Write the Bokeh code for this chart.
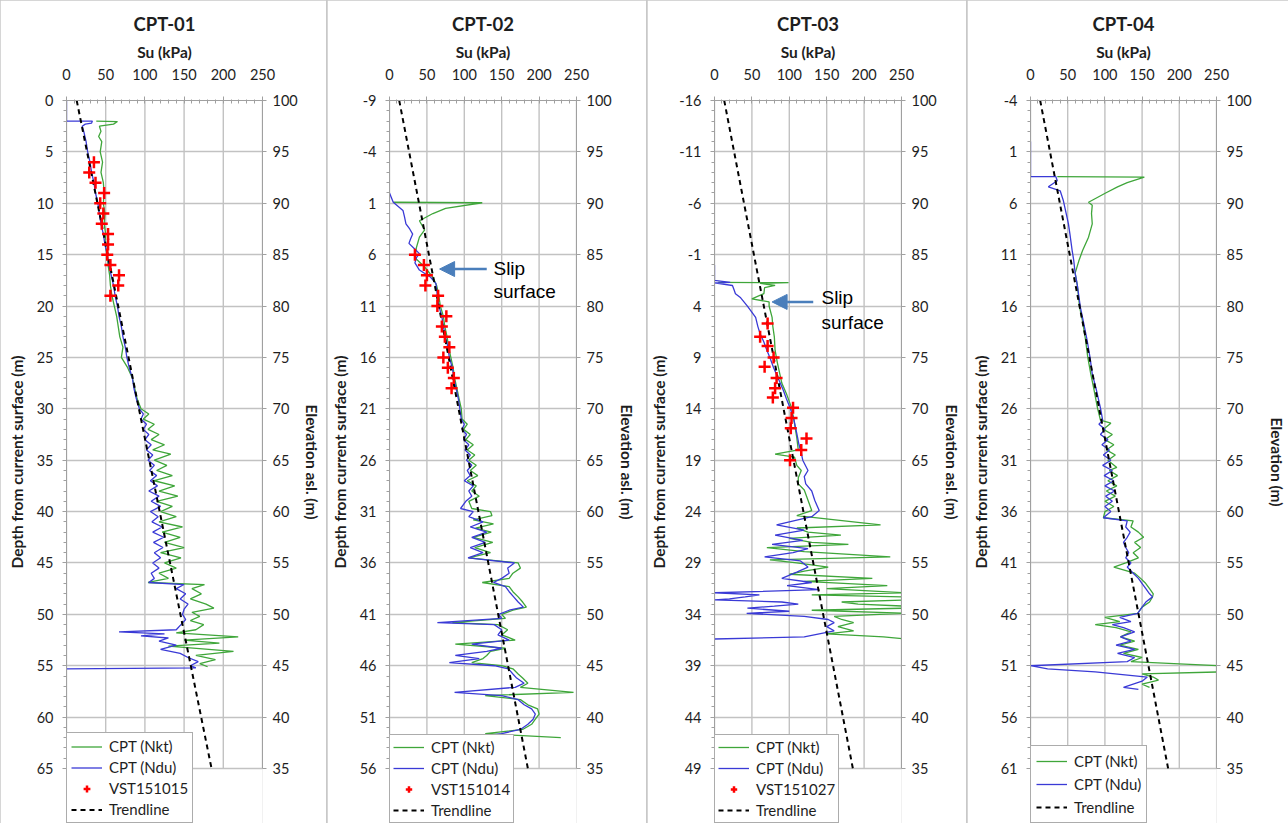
from bokeh.plotting import figure
from bokeh.models import (Range1d, LinearAxis, FixedTicker, Legend, LegendItem,
                          Arrow, NormalHead, Label)
from bokeh.layouts import row
from bokeh.embed import file_html
from bokeh.resources import INLINE

# ---------------- data ----------------
panel_titles = ["CPT-01", "CPT-02", "CPT-03", "CPT-04"]
depth_tops = [0, -9, -16, -4]          # depth value at elevation 100 m
elev_labels = ["Elevation asl. (m)", "Elevation asl. (m)", "Elevation asl. (m)", "Elevation (m)"]
vst_names = ["VST151015", "VST151014", "VST151027", None]
su_ticks = [0, 50, 100, 150, 200, 250]
elev_ticks = list(range(35, 101, 5))
trend_elev = [100, 35]
trend_su = [13, 185]

# (depth m, Su kPa)
cpt01_nkt = [(2.0, 38), (2.05, 65), (2.3, 60), (2.5, 42), (3, 44), (3.5, 41), (4, 45), (5, 43), (6, 46), (7, 44),
             (8, 47), (9, 48), (10, 47), (11, 49), (12, 48), (13, 50), (14, 49), (15, 52), (16, 53), (17, 55),
             (18, 56), (19, 58), (20, 61), (21, 64), (22, 66), (23, 68), (24, 72), (25, 70), (26, 78), (27, 84),
             (28, 87), (29, 90), (30.0, 95), (30.5, 105), (31.0, 98), (31.5, 112), (32.0, 104), (32.5, 118),
             (33.0, 108), (33.5, 125), (34.0, 110), (34.4, 133), (35.0, 112), (35.5, 128), (36.0, 115), (36.5, 135),
             (37.0, 112), (37.5, 138), (38.0, 118), (38.5, 142), (39.0, 115), (39.5, 135), (40.0, 120), (40.5, 140),
             (41.0, 118), (41.5, 148), (42.0, 122), (42.5, 145), (43.0, 125), (43.5, 150), (44.0, 120), (44.5, 146),
             (45.0, 125), (45.5, 140), (46.0, 118), (46.5, 130), (46.9, 104), (47.1, 176), (47.5, 160), (48.0, 172),
             (48.5, 158), (49.0, 178), (49.4, 188), (49.8, 160), (50.2, 170), (50.6, 158), (51.0, 175), (51.5, 165),
             (51.8, 140), (52.2, 219), (52.5, 150), (52.8, 195), (53.1, 130), (53.6, 213), (54.0, 165), (54.4, 190),
             (54.8, 170), (55.1, 180)]
cpt01_ndu = [(0, 0), (2.0, 0), (2.0, 33), (2.2, 32), (2.3, 24), (2.5, 20), (3, 22), (4, 25), (5, 27), (6, 30),
             (7, 32), (8, 35), (9, 37), (10, 40), (11, 42), (12, 44), (13, 47), (14, 49), (15, 52), (16, 54),
             (17, 57), (18, 60), (19, 62), (20, 65), (21, 67), (22, 70), (23, 72), (24, 75), (25, 77), (26, 80),
             (27, 84), (28, 86), (29, 89), (30.0, 93), (30.5, 98), (31.0, 95), (31.5, 102), (32.0, 98), (32.5, 105),
             (33.0, 100), (33.5, 108), (34.0, 102), (34.5, 110), (35.0, 104), (35.5, 112), (36.0, 106), (36.5, 115),
             (37.0, 107), (37.5, 116), (38.0, 105), (38.5, 118), (39.0, 108), (39.5, 120), (40.0, 107), (40.5, 117),
             (41.0, 109), (41.5, 122), (42.0, 110), (42.5, 124), (43.0, 111), (43.5, 123), (44.0, 112), (44.5, 120),
             (45.0, 110), (45.5, 118), (46.0, 108), (46.5, 112), (46.9, 105), (47.1, 150), (47.5, 140), (48.0, 152),
             (48.5, 145), (49.0, 155), (49.5, 150), (50.0, 148), (50.5, 152), (51.0, 146), (51.5, 140), (51.7, 67),
             (51.9, 125), (52.1, 95), (52.3, 130), (52.6, 118), (53.0, 140), (53.4, 120), (53.8, 145), (54.2, 155),
             (54.6, 168), (55.0, 158), (55.2, 165), (55.3, 0)]
cpt01_vst = [(6, 35), (7, 29), (8, 37), (9, 48), (10, 43), (11, 47), (12, 45), (13, 53), (14, 53), (15, 52),
             (16, 56), (17, 67), (18, 66), (19, 56)]

cpt02_nkt = [(0.9, 5), (0.95, 124), (1.5, 75), (2.0, 58), (2.7, 40), (3.6, 47), (4.3, 40), (5.3, 36), (6.3, 34),
             (7.2, 47), (8.2, 58), (9, 63), (10, 66), (11, 68), (12, 72), (13, 74), (14, 77), (15, 79), (16, 82),
             (17, 85), (18, 87), (19, 90), (20, 93), (21, 96), (22.0, 97), (22.5, 104), (23.0, 99), (23.5, 108),
             (24.0, 102), (24.5, 112), (25.0, 104), (25.5, 114), (26.0, 106), (26.5, 116), (27.0, 108), (27.5, 118),
             (28.0, 104), (28.5, 116), (29.0, 110), (29.5, 120), (30.0, 106), (30.7, 110), (31.0, 135), (31.4, 137),
             (31.8, 112), (32.2, 139), (32.6, 115), (33.0, 136), (33.5, 112), (34.0, 138), (34.5, 114), (35.0, 135),
             (35.5, 106), (36.0, 172), (36.5, 175), (37.0, 165), (37.5, 160), (37.9, 124), (38.3, 160), (38.8, 165),
             (39.3, 172), (39.8, 178), (40.3, 183), (40.6, 165), (41.0, 150), (41.4, 155), (41.8, 84), (42.0, 145),
             (42.5, 158), (43.0, 150), (43.5, 168), (43.9, 88), (44.3, 155), (44.6, 135), (45.0, 130), (45.3, 125),
             (45.7, 110), (46.0, 150), (46.3, 165), (46.8, 172), (47.2, 178), (47.7, 185), (48.1, 175), (48.6, 246),
             (48.9, 128), (49.3, 175), (49.8, 185), (50.2, 198), (50.7, 200), (51.2, 195), (51.7, 190), (52.2, 178),
             (52.6, 128), (53.0, 229)]
cpt02_ndu = [(0.0, 0), (0.9, 5), (1.7, 18), (2.3, 20), (3.0, 22), (3.5, 27), (4.0, 31), (4.5, 28), (4.9, 26),
             (5.4, 33), (5.9, 40), (6.3, 36), (6.8, 34), (7.5, 40), (8.2, 55), (8.8, 62), (10, 64), (11, 66),
             (12, 70), (13, 72), (14, 75), (15, 78), (16, 80), (17, 84), (18, 86), (19, 89), (20, 92), (21, 94),
             (22.0, 96), (22.5, 100), (23.0, 97), (23.5, 103), (24.0, 99), (24.5, 106), (25.0, 101), (25.5, 108),
             (26.0, 103), (26.5, 110), (27.0, 104), (27.5, 108), (28.0, 100), (28.5, 112), (29.0, 106), (29.5, 110),
             (30.0, 102), (30.7, 95), (31.0, 112), (31.5, 106), (32.0, 125), (32.5, 108), (33.0, 130), (33.5, 110),
             (34.0, 128), (34.5, 108), (35.0, 125), (35.5, 105), (36.0, 167), (36.5, 158), (37.0, 160), (37.5, 150),
             (37.9, 139), (38.3, 155), (38.8, 160), (39.3, 166), (39.8, 172), (40.3, 179), (40.6, 160), (41.0, 146),
             (41.4, 150), (41.8, 64), (42.0, 140), (42.5, 150), (43.0, 145), (43.5, 160), (43.9, 110), (44.3, 150),
             (44.6, 130), (45.0, 88), (45.3, 120), (45.7, 80), (46.0, 140), (46.3, 159), (46.8, 165), (47.2, 170),
             (47.7, 180), (48.1, 168), (48.6, 87), (48.9, 150), (49.3, 172), (49.8, 180), (50.2, 190), (50.7, 195),
             (51.2, 192), (51.7, 185), (52.2, 175), (52.6, 150), (52.8, 130), (53.0, 0)]
cpt02_vst = [(6, 34), (7, 46), (8, 50), (9, 48), (10, 65), (11, 64), (12, 76), (13, 70), (14, 74), (15, 80),
             (16, 72), (17, 78), (18, 86), (19, 83)]

cpt03_nkt = [(1.7, 5), (1.72, 99), (1.8, 61), (2.0, 81), (2.2, 67), (2.8, 66), (3.3, 50), (3.6, 73), (4, 73),
             (5.1, 77), (6, 78), (7, 80), (8.3, 81), (9.5, 84), (10.5, 87), (11.5, 90), (12.5, 96), (13.9, 103),
             (15, 106), (16.8, 110), (18.0, 112), (18.4, 81), (18.7, 107), (19.5, 110), (20.0, 116), (20.7, 112),
             (21.3, 112), (21.9, 120), (22.9, 125), (23.9, 130), (24.4, 110), (25.3, 222), (25.6, 110), (26.0, 125),
             (26.3, 169), (26.6, 100), (27.0, 130), (27.2, 179), (27.5, 70), (27.9, 120), (28.4, 235), (28.7, 74),
             (29.0, 110), (29.4, 152), (29.8, 120), (30.1, 100), (30.5, 211), (30.8, 120), (31.2, 231), (31.5, 150),
             (31.9, 255), (32.1, 130), (32.3, 255), (32.6, 255), (32.8, 170), (33.0, 192), (33.2, 255), (33.4, 255),
             (33.6, 130), (33.9, 255), (34.2, 160), (34.5, 170), (34.8, 186), (35.2, 165), (35.6, 186), (35.9, 150),
             (36.2, 226), (36.4, 255)]
cpt03_ndu = [(0, 0), (1.5, 0), (1.7, 21), (1.75, 0), (2.0, 24), (2.4, 26), (2.8, 28), (3.2, 35), (4, 44),
             (5.1, 55), (6, 58), (6.7, 61), (7.5, 66), (8.3, 70), (9, 74), (10, 79), (11, 85), (12.2, 92), (13, 96),
             (13.9, 101), (15, 106), (16.4, 110), (17.5, 113), (18.3, 116), (19, 118), (20, 125), (20.6, 120),
             (21.3, 122), (22.0, 130), (22.9, 134), (23.4, 137), (23.9, 140), (24.5, 130), (25.3, 83), (25.8, 120),
             (26.3, 81), (26.8, 118), (27.2, 77), (27.6, 125), (28.0, 105), (28.4, 67), (28.8, 115), (29.4, 125),
             (29.9, 110), (30.5, 90), (30.9, 130), (31.2, 97), (31.6, 140), (31.9, 0), (32.1, 60), (32.3, 41),
             (32.5, 20), (32.6, 0), (32.8, 90), (33.0, 112), (33.2, 80), (33.4, 44), (33.7, 100), (33.9, 43),
             (34.2, 120), (34.5, 152), (34.8, 160), (35.2, 150), (35.6, 160), (35.9, 140), (36.2, 120), (36.4, 0)]
cpt03_vst = [(5.7, 71), (7, 61), (7.9, 71), (9, 79), (9.9, 67), (11, 83), (12, 81), (12.9, 78), (13.9, 105),
             (14.9, 103), (15.9, 102), (16.9, 123), (18, 116), (19, 101)]

cpt04_nkt = [(3.4, 36), (3.45, 153), (4.0, 130), (4.4, 117), (5.0, 101), (5.9, 78), (6.2, 83), (7, 82), (8, 83),
             (9.3, 78), (10.6, 70), (11.6, 65), (12.8, 60), (14, 63), (16.1, 66), (17.5, 70), (19.3, 74), (21, 77),
             (22.6, 81), (24, 85), (25.9, 90), (27.1, 94), (27.4, 108), (28.0, 98), (28.5, 110), (29.0, 100),
             (29.5, 112), (30.0, 102), (30.5, 114), (31.0, 104), (31.7, 116), (32.0, 106), (32.5, 117), (33.0, 104),
             (33.5, 116), (34.0, 102), (34.5, 114), (35.0, 100), (35.5, 112), (36.0, 100), (36.6, 98), (36.9, 138),
             (37.5, 135), (38.0, 145), (38.5, 152), (39.0, 140), (39.5, 148), (40.0, 138), (40.5, 145), (41.0, 128),
             (41.4, 112), (42.0, 140), (42.5, 148), (43.0, 155), (43.5, 160), (44.0, 165), (44.3, 164), (44.8, 160),
             (45.3, 150), (45.9, 144), (46.3, 100), (46.7, 120), (47.0, 87), (47.3, 115), (47.7, 135), (48.2, 121),
             (48.6, 140), (49.0, 120), (49.4, 145), (49.8, 125), (50.2, 150), (50.6, 135), (51.0, 255), (51.3, 255),
             (51.6, 255), (51.8, 150), (52.1, 165), (52.4, 172), (52.8, 150), (53.1, 160)]
cpt04_ndu = [(0, 0), (3.4, 0), (3.4, 34), (3.8, 36), (4.1, 30), (4.4, 24), (4.8, 40), (5.7, 44), (7, 48), (8, 51),
             (9, 53), (10.6, 56), (11.5, 58), (12.8, 60), (14, 63), (16.1, 67), (17.5, 71), (19.3, 76), (21, 80),
             (22.6, 83), (24, 88), (25.9, 94), (27.1, 97), (27.5, 92), (28.0, 100), (28.5, 94), (29.0, 104),
             (29.5, 96), (30.0, 106), (30.5, 98), (31.0, 108), (31.5, 97), (32.0, 110), (32.5, 99), (33.0, 112),
             (33.5, 100), (34.0, 113), (34.5, 101), (35.0, 110), (35.5, 100), (36.0, 108), (36.6, 98), (36.9, 130),
             (37.5, 128), (38.0, 134), (38.5, 130), (39.0, 125), (39.5, 128), (40.0, 132), (40.5, 128), (41.0, 135),
             (41.4, 130), (42.0, 138), (42.5, 145), (43.0, 150), (43.5, 155), (44.0, 160), (44.3, 164), (44.8, 155),
             (45.3, 150), (45.9, 144), (46.3, 120), (46.7, 135), (47.0, 110), (47.3, 125), (47.7, 140), (48.2, 121),
             (48.6, 135), (49.0, 115), (49.4, 140), (49.8, 117), (50.2, 140), (50.6, 130), (51.0, 0), (51.3, 23),
             (51.6, 87), (52.1, 157), (52.5, 150), (53.1, 125), (53.3, 145)]

nkt_data = [cpt01_nkt, cpt02_nkt, cpt03_nkt, cpt04_nkt]
ndu_data = [cpt01_ndu, cpt02_ndu, cpt03_ndu, cpt04_ndu]
vst_data = [cpt01_vst, cpt02_vst, cpt03_vst, None]

# slip surface annotations: (arrow tail Su, arrow head Su, arrow depth, text Su, text depths)
slip_notes = [None, (130, 67, 7.4, 139, 7.3, 9.6), (132, 77, 3.6, 143, 3.2, 5.6), None]

# ---------------- layout / style ----------------
FONT = "Lato"
TXT = "#1e1e1e"
GRID = "#c2c2c2"
GREEN = "#3fa63a"
BLUE = "#3a3ad6"
ARROW = "#4a7ebb"

widths = [326, 319, 319, 321]
lefts = [66, 59, 65, 63]
fws = [196, 190, 189, 186]
elev_standoffs = [2, 3, 3, 13]
legend_geom = [(17, 3, 4), (16, 3, 3), (16, 3, 3), (20, 3, 5)]   # glyph height, spacing, padding
H = 823
TOP = 100            # frame top (px)
AXIS_PX = 668        # pixels used by the 65 m shown on the axes
SPAN = 65
EXT = SPAN * (H - TOP) / AXIS_PX     # range extent so the frame also holds the legend


def split(pairs):
    return [p[1] for p in pairs], [p[0] for p in pairs]


def make_panel(i):
    top = depth_tops[i]
    w = widths[i]
    p = figure(width=w, height=H, x_range=Range1d(0, 250), y_range=Range1d(top + EXT, top),
               x_axis_location="above", output_backend="svg", toolbar_location=None,
               min_border_left=lefts[i], min_border_right=w - lefts[i] - fws[i],
               min_border_top=TOP, min_border_bottom=0, title=panel_titles[i])
    p.background_fill_color = "white"
    p.border_fill_color = "white"
    p.outline_line_color = None

    p.title.align = "center"
    p.title.text_font = FONT
    p.title.text_font_size = "18.5px"
    p.title.text_font_style = "bold"
    p.title.text_color = TXT
    p.title.standoff = 9

    xa = p.xaxis[0]
    xa.ticker = FixedTicker(ticks=su_ticks, minor_ticks=list(range(0, 251, 10)))
    xa.axis_label = "Su (kPa)"
    ya = p.yaxis[0]
    dticks = [top + 5 * k for k in range(14)]
    ya.ticker = FixedTicker(ticks=dticks, minor_ticks=[top + k for k in range(66)])
    ya.major_label_overrides = {t: str(t) for t in dticks}     # plain hyphen minus, as in Excel
    ya.axis_label = "Depth from current surface (m)"
    ya.bounds = (top, top + SPAN)

    p.extra_y_ranges = {"elev": Range1d(100 - EXT, 100)}
    ra = LinearAxis(y_range_name="elev", ticker=FixedTicker(ticks=elev_ticks, minor_ticks=[]),
                    axis_label=elev_labels[i], bounds=(35, 100))
    p.add_layout(ra, "right")

    for ax in (xa, ya, ra):
        ax.major_label_text_font = FONT
        ax.major_label_text_font_size = "14.5px"
        ax.major_label_text_color = TXT
        ax.axis_label_text_font = FONT
        ax.axis_label_text_font_size = "15.5px"
        ax.axis_label_text_font_style = "bold"
        ax.axis_label_text_color = TXT
        ax.axis_line_color = "#a0a0a0"
        ax.major_tick_line_color = "#a0a0a0"
        ax.minor_tick_line_color = "#a0a0a0"
        ax.major_tick_in = 0
        ax.major_tick_out = 4
        ax.minor_tick_in = 0
        ax.minor_tick_out = 0
    xa.minor_tick_in = 3
    xa.minor_tick_out = 1
    xa.major_label_standoff = 17
    xa.axis_label_standoff = 5
    ya.minor_tick_out = 3
    ya.major_label_standoff = 9
    ya.axis_label_standoff = 8
    ra.major_label_standoff = 6
    ra.axis_label_standoff = elev_standoffs[i]

    # grid: vertical lines only across the 65 m shown, horizontal from the depth ticks
    p.xgrid.visible = False
    p.segment(x0=su_ticks, y0=[top] * len(su_ticks), x1=su_ticks, y1=[top + SPAN] * len(su_ticks),
              line_color=GRID, line_width=1.4, level="underlay")
    p.ygrid.grid_line_color = GRID
    p.ygrid.grid_line_width = 1.4

    xs, ys = split(nkt_data[i])
    r_nkt = p.line(xs, ys, line_color=GREEN, line_width=1.3)
    xs, ys = split(ndu_data[i])
    r_ndu = p.line(xs, ys, line_color=BLUE, line_width=1.3)
    r_tr = p.line(trend_su, trend_elev, y_range_name="elev", line_color="black",
                  line_width=2, line_dash="5 4")
    items = [LegendItem(label="CPT (Nkt)", renderers=[r_nkt]),
             LegendItem(label="CPT (Ndu)", renderers=[r_ndu])]
    if vst_data[i] is not None:
        xs, ys = split(vst_data[i])
        r_v = p.scatter(xs, ys, marker="cross", size=12, line_color="#ff0000", line_width=2.5)
        items.append(LegendItem(label=vst_names[i], renderers=[r_v]))
    items.append(LegendItem(label="Trendline", renderers=[r_tr]))

    gh, sp, pad = legend_geom[i]
    leg = Legend(items=items, location=(0, 0), orientation="vertical",
                 label_text_font=FONT, label_text_font_size="15px", label_text_color=TXT,
                 glyph_width=31, glyph_height=gh, label_height=gh, spacing=sp, padding=pad,
                 margin=0, label_standoff=7, border_line_color="#595959", border_line_width=1.5,
                 background_fill_color="white", background_fill_alpha=1.0)
    p.add_layout(leg)

    note = slip_notes[i]
    if note is not None:
        tail, head, dep, tx, td1, td2 = note
        p.add_layout(Arrow(end=NormalHead(size=15, fill_color=ARROW, line_color=ARROW),
                           x_start=tail, y_start=dep, x_end=head, y_end=dep,
                           line_color=ARROW, line_width=2.5))
        p.add_layout(Label(x=tx, y=td1, text="Slip", text_font="Liberation Sans",
                           text_font_size="19px", text_baseline="middle", text_color="black"))
        p.add_layout(Label(x=tx, y=td2, text="surface", text_font="Liberation Sans",
                           text_font_size="19px", text_baseline="middle", text_color="black"))
    return p


panels = [make_panel(i) for i in range(4)]
layout = row(*panels, spacing=1, styles={"background-color": "#c8c8c8"})

open("out.html", "w").write(file_html(layout, INLINE))
